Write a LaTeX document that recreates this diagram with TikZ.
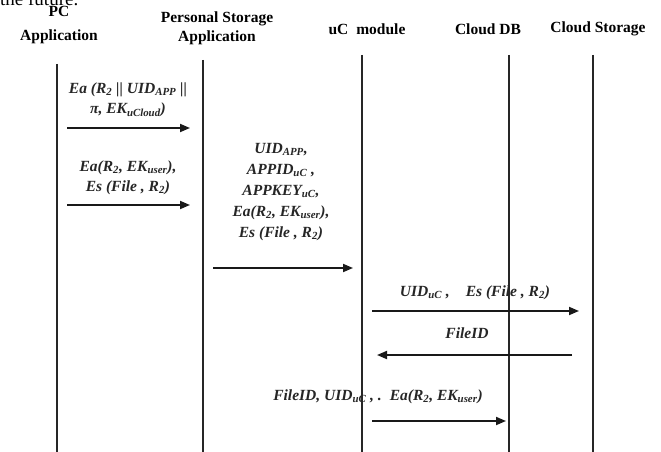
\documentclass[tikz,border=0pt]{standalone}
\usepackage{fontspec}
\setmainfont{Liberation Serif}
\usetikzlibrary{arrows.meta}
\newcommand\sbs[1]{\textsubscript{#1}}
\begin{document}
\begin{tikzpicture}[x=1pt,y=-1pt,
  head/.style={font=\fontsize{15.5}{19}\selectfont\bfseries, align=center, inner sep=0pt},
  lbl/.style={font=\fontsize{15.5}{20}\selectfont\bfseries\itshape, align=center, inner sep=0pt, text=black!85},
  life/.style={line width=1.8pt, draw=black!85},
  msg/.style={line width=1.8pt, draw=black!90, -{Triangle[length=10pt,width=8pt]}}]
\useasboundingbox[fill=white] (0,0) rectangle (661,452);
% page text cropped at top
\node[anchor=base west, inner sep=0pt, font=\fontsize{19}{22}\selectfont] (fut) at (0,6) {the future.};
% headers
\node[head] (hpc) at (59,25) {PC\\[5pt]Application};
\node[head] (hps) at (217,28) {Personal Storage\\Application};
\node[head] (huc) at (367,29) {uC\hspace{4pt} module};
\node[head] (hdb) at (488,29) {Cloud DB};
\node[head] (hcs) at (598,29) {Cloud Storage};
% lifelines
\coordinate (pct) at (57,64);   \coordinate (pcb) at (57,452);
\coordinate (pst) at (203,60);  \coordinate (psb) at (203,452);
\coordinate (uct) at (362,55);  \coordinate (ucb) at (362,452);
\coordinate (dbt) at (509,55);  \coordinate (dbb) at (509,452);
\coordinate (cst) at (593,55);  \coordinate (csb) at (593,452);
\draw[life] (pct) -- (pcb);
\draw[life] (pst) -- (psb);
\draw[life] (uct) -- (ucb);
\draw[life] (dbt) -- (dbb);
\draw[life] (cst) -- (csb);
% message 1
\node[lbl] (l1) at (128,100) {Ea (R\sbs{2} || UID\sbs{APP} ||\\π, EK\sbs{uCloud})};
\coordinate (a1s) at (67,128); \coordinate (a1e) at (190,128);
\draw[msg] (a1s) -- (a1e);
% message 2
\node[lbl] (l2) at (128,178) {Ea(R\sbs{2}, EK\sbs{user}),\\Es (File , R\sbs{2})};
\coordinate (a2s) at (67,205); \coordinate (a2e) at (190,205);
\draw[msg] (a2s) -- (a2e);
% message 3
\node[lbl, font=\fontsize{15.5}{21}\selectfont\bfseries\itshape] (l3) at (281,192) {UID\sbs{APP},\\APPID\sbs{uC} ,\\APPKEY\sbs{uC},\\Ea(R\sbs{2}, EK\sbs{user}),\\Es (File , R\sbs{2})};
\coordinate (a3s) at (213,268); \coordinate (a3e) at (353,268);
\draw[msg] (a3s) -- (a3e);
% message 4
\node[lbl] (l4) at (475,293) {UID\sbs{uC} ,\hspace{16pt}Es (File , R\sbs{2})};
\coordinate (a4s) at (372,311); \coordinate (a4e) at (579,311);
\draw[msg] (a4s) -- (a4e);
% message 5
\node[lbl] (l5) at (467,333) {FileID};
\coordinate (a5s) at (572,355); \coordinate (a5e) at (377,355);
\draw[msg] (a5s) -- (a5e);
% message 6
\node[lbl] (l6) at (378,397) {FileID, UID\sbs{uC} , .\hspace{8pt}Ea(R\sbs{2}, EK\sbs{user})};
\coordinate (a6s) at (372,421); \coordinate (a6e) at (506,421);
\draw[msg] (a6s) -- (a6e);
\end{tikzpicture}
\end{document}
